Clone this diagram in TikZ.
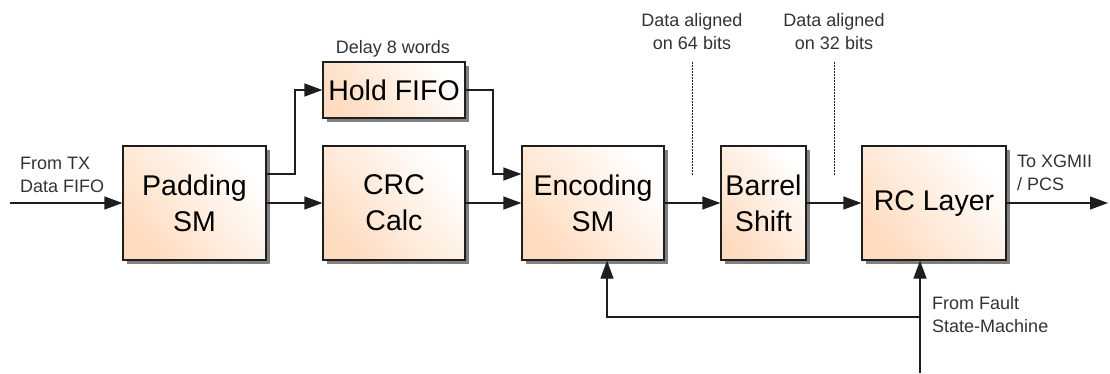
\documentclass[tikz,border=0pt]{standalone}
\usepackage{fontspec}
\setmainfont{Liberation Sans}
\usetikzlibrary{arrows.meta,shadows}
\definecolor{peach}{RGB}{255,220,192}
\definecolor{lin}{RGB}{30,30,30}
\tikzset{
  blk/.style={draw=lin, line width=1.2pt, rectangle, inner sep=0pt,
    minimum height=114pt, align=center, font=\fontsize{28.5}{36}\selectfont,
    shading=axis, left color=white, middle color=peach!95!white, right color=peach, shading angle=-50,
    drop shadow={shadow xshift=4pt, shadow yshift=-4pt, fill=black!50, opacity=1}},
  lbl/.style={font=\fontsize{18}{23}\selectfont, text=black!80, inner sep=0pt, align=left},
  conn/.style={draw=lin, line width=1.2pt},
  arr/.style={conn, -{Triangle[length=18pt,width=13pt]}},
}
\begin{document}
\begin{tikzpicture}[x=1pt,y=-1pt]
\useasboundingbox (0,0) rectangle (1110,373);
\node[blk, minimum width=143pt] (pad) at (194.5,203) {Padding\\SM};
\node[blk, minimum width=142pt] (crc) at (394,203) {CRC\\Calc};
\node[blk, minimum width=142pt, minimum height=56pt] (hold) at (394,90) {Hold FIFO};
\node[blk, minimum width=142pt] (enc) at (593,203) {Encoding\\SM};
\node[blk, minimum width=85pt] (bar) at (763.5,203) {Barrel\\Shift};
\node[blk, minimum width=144pt] (rc) at (934,203) {RC Layer};

\coordinate (in) at (10,203);
\coordinate (out) at (1108,203);
\coordinate (fault) at (920,373);
\coordinate (d1t) at (692,62);
\coordinate (d1b) at (692,175);
\coordinate (d2t) at (834,62);
\coordinate (d2b) at (834,175);

\draw[arr] (in) -- (pad.west);
\draw[arr] (pad.east) -- (crc.west);
\draw[arr] (crc.east) -- (enc.west);
\draw[arr] (enc.east) -- (bar.west);
\draw[arr] (bar.east) -- (rc.west);
\draw[arr] (rc.east) -- (out);
\draw[arr] (pad.east |- 0,174) -| (295,90) -- (hold.west);
\draw[arr] (hold.east) -| (493,174) -- (enc.west |- 0,174);
\draw[arr] (fault) -- (rc.south -| fault);
\draw[arr] (fault |- 0,317) -| (enc.south -| 607,0);

\draw[lin, line width=0.8pt, dash pattern=on 2pt off 1pt] (d1t) -- (d1b);
\draw[lin, line width=0.8pt, dash pattern=on 2pt off 1pt] (d2t) -- (d2b);

\node[lbl, align=center] (l64) at (692,32) {Data aligned\\on 64 bits};
\node[lbl, align=center] (l32) at (834,32) {Data aligned\\on 32 bits};
\node[lbl, anchor=west] (ltx) at (20,175) {From TX\\Data FIFO};
\node[lbl, anchor=west] (lx) at (1017,173) {To XGMII\\/ PCS};
\node[lbl, anchor=west] (lf) at (932,315) {From Fault\\State-Machine};
\node[lbl] (ld) at (393,49) {Delay 8 words};
\end{tikzpicture}
\end{document}
